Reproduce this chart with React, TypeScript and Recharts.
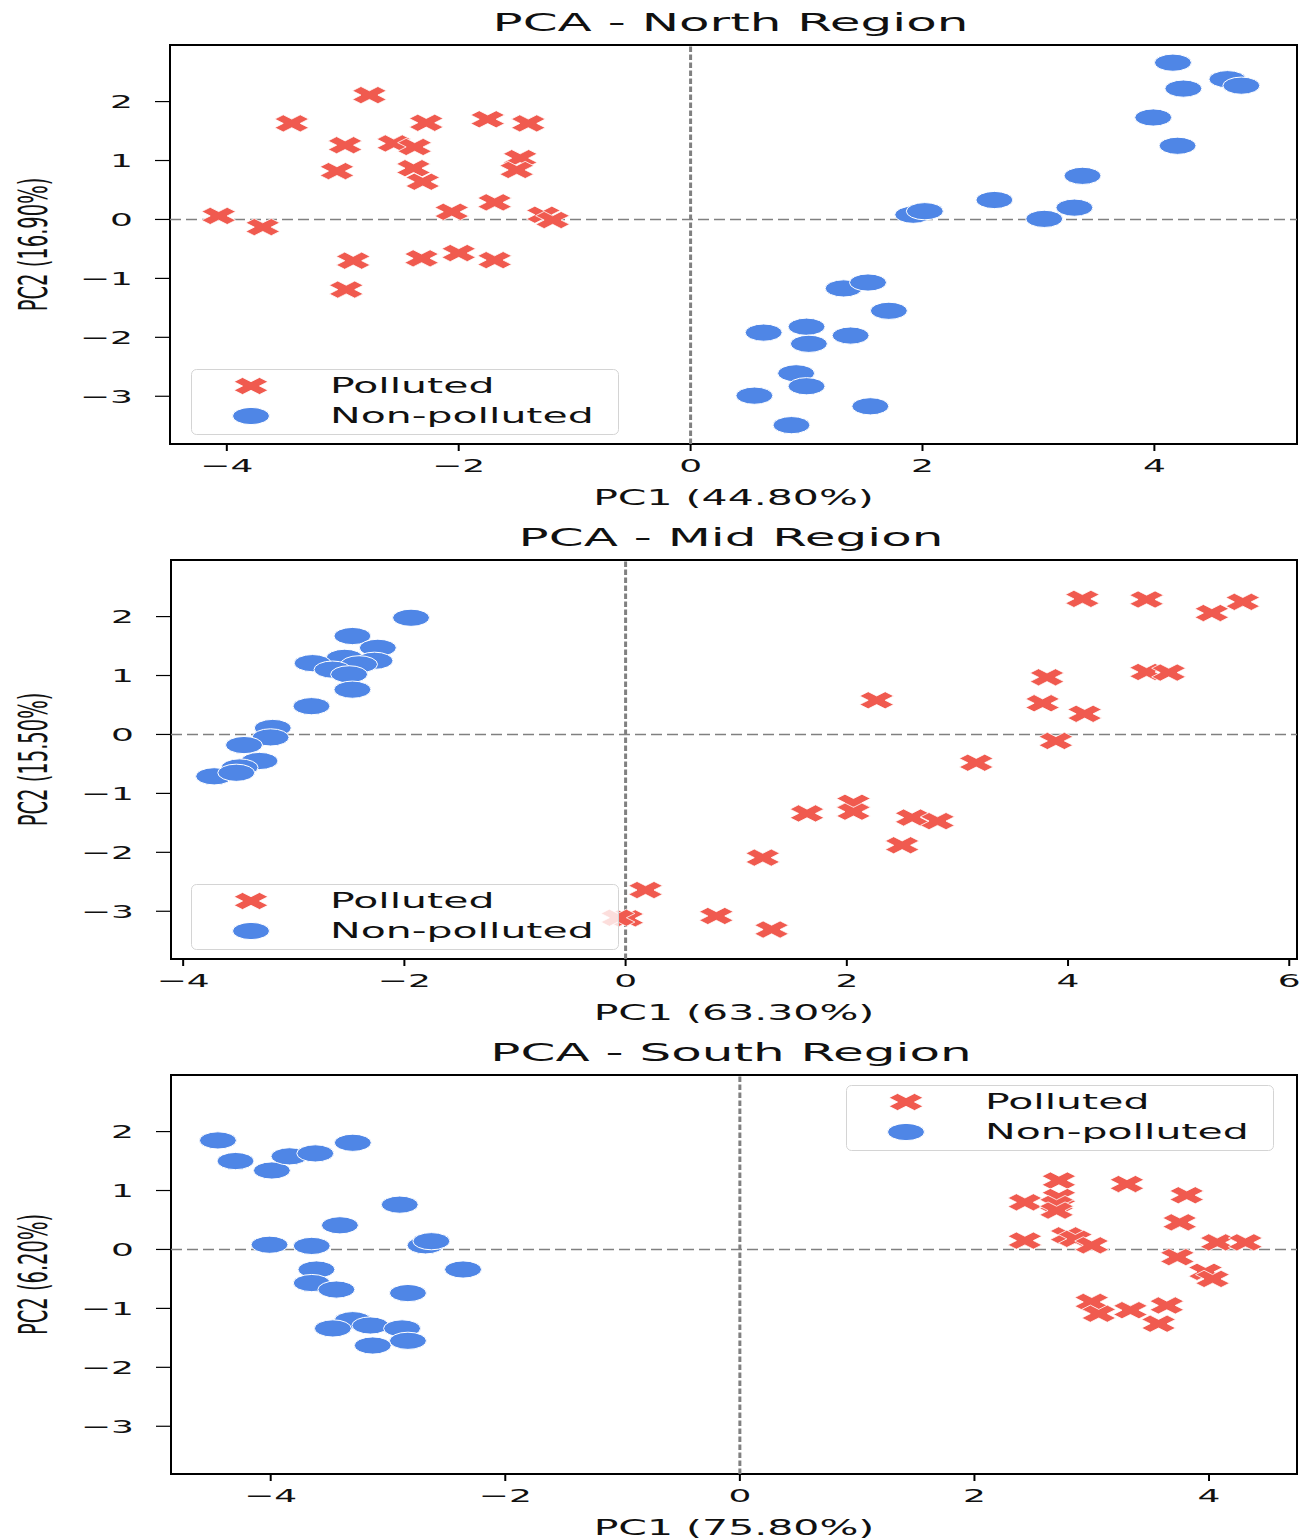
import React from "react";
import {
  ScatterChart,
  Scatter,
  XAxis,
  YAxis,
  ReferenceLine,
  ReferenceArea,
  Legend,
} from "recharts";

// North region
const northPollutedX = [-2.77, -3.44, -2.28, -1.75, -1.4, -2.98, -2.56, -2.38, -1.47, -3.05, -2.39, -2.31, -1.5, -4.07, -3.69, -2.06, -1.69, -1.27, -1.19, -2.91, -2.32, -2.0, -1.69, -2.97];
const northPollutedY = [2.11, 1.63, 1.64, 1.7, 1.63, 1.26, 1.29, 1.23, 1.04, 0.82, 0.87, 0.64, 0.84, 0.06, -0.13, 0.13, 0.29, 0.08, -0.01, -0.7, -0.66, -0.57, -0.69, -1.19];
const northCleanX = [4.16, 4.63, 4.75, 4.25, 3.99, 4.2, 3.38, 2.62, 3.31, 3.05, 1.92, 2.02, 1.32, 1.53, 1.71, 0.63, 1.0, 1.02, 1.38, 0.91, 1.0, 0.55, 1.55, 0.87];
const northCleanY = [2.66, 2.38, 2.27, 2.22, 1.73, 1.25, 0.74, 0.33, 0.2, 0.01, 0.08, 0.14, -1.17, -1.07, -1.55, -1.92, -1.82, -2.11, -1.97, -2.61, -2.83, -2.99, -3.17, -3.49];

// Mid region
const midPollutedX = [4.13, 4.71, 5.3, 5.58, 3.81, 4.71, 4.91, 2.27, 3.77, 4.15, 3.89, 3.17, 1.64, 2.06, 2.06, 2.59, 2.82, 2.5, 1.24, 0.18, 0.01, -0.07, 0.82, 1.32];
const midPollutedY = [2.3, 2.29, 2.06, 2.25, 0.97, 1.06, 1.05, 0.58, 0.53, 0.35, -0.11, -0.48, -1.34, -1.16, -1.31, -1.41, -1.47, -1.88, -2.09, -2.64, -3.12, -3.11, -3.08, -3.31];
const midCleanX = [-1.94, -2.47, -2.24, -2.54, -2.83, -2.27, -2.41, -2.65, -2.5, -2.47, -2.84, -3.19, -3.21, -3.45, -3.31, -3.49, -3.72, -3.52];
const midCleanY = [1.98, 1.67, 1.47, 1.3, 1.21, 1.25, 1.19, 1.1, 1.02, 0.76, 0.48, 0.11, -0.05, -0.18, -0.45, -0.56, -0.71, -0.65];

// South region
const southPollutedX = [2.72, 3.3, 3.81, 2.43, 2.72, 2.7, 2.7, 3.75, 2.43, 2.79, 2.86, 3.0, 4.07, 4.31, 3.73, 3.97, 4.03, 3.0, 3.06, 3.33, 3.64, 3.57];
const southPollutedY = [1.17, 1.11, 0.92, 0.8, 0.89, 0.77, 0.66, 0.46, 0.15, 0.24, 0.18, 0.07, 0.12, 0.12, -0.13, -0.38, -0.5, -0.89, -1.09, -1.03, -0.95, -1.26];
const southCleanX = [-4.45, -4.3, -3.99, -3.84, -3.62, -3.3, -2.9, -3.41, -4.01, -3.65, -2.68, -2.63, -2.36, -3.61, -3.65, -3.44, -2.83, -3.3, -3.47, -3.15, -2.88, -2.83, -3.13];
const southCleanY = [1.85, 1.5, 1.34, 1.58, 1.63, 1.81, 0.76, 0.41, 0.08, 0.06, 0.07, 0.14, -0.34, -0.34, -0.57, -0.68, -0.74, -1.2, -1.34, -1.29, -1.34, -1.55, -1.63];

const seriesNames = ["Polluted", "Non-polluted"];
const yTicks = [-3, -2, -1, 0, 1, 2];
const xTicksNorth = [-4, -2, 0, 2, 4];
const xTicksMid = [-4, -2, 0, 2, 4, 6];
const xTicksSouth = [-4, -2, 0, 2, 4];

const RED = "#F05A4F";
const BLUE = "#4F86E6";
const FONT = "'DejaVu Sans', sans-serif";
const Y_DOMAIN: [number, number] = [-3.81, 2.96];
const W = 1308;
const H = 515;

const zip = (xs: number[], ys: number[]) => xs.map((x, i) => ({ x, y: ys[i] }));

const panels = [
  {
    title: "PCA - North Region",
    xLabel: "PC1 (44.80%)",
    yLabel: "PC2 (16.90%)",
    xDomain: [-4.49, 5.23] as [number, number],
    xTicks: xTicksNorth,
    left: 170,
    legend: { left: 191, top: 369 },
    polluted: zip(northPollutedX, northPollutedY),
    clean: zip(northCleanX, northCleanY),
  },
  {
    title: "PCA - Mid Region",
    xLabel: "PC1 (63.30%)",
    yLabel: "PC2 (15.50%)",
    xDomain: [-4.11, 6.07] as [number, number],
    xTicks: xTicksMid,
    left: 171,
    legend: { left: 191, top: 369 },
    polluted: zip(midPollutedX, midPollutedY),
    clean: zip(midCleanX, midCleanY),
  },
  {
    title: "PCA - South Region",
    xLabel: "PC1 (75.80%)",
    yLabel: "PC2 (6.20%)",
    xDomain: [-4.85, 4.75] as [number, number],
    xTicks: xTicksSouth,
    left: 171,
    legend: { left: 846, top: 55 },
    polluted: zip(southPollutedX, southPollutedY),
    clean: zip(southCleanX, southCleanY),
  },
];

const fmtTick = (v: number) => (v < 0 ? `\u2212${Math.abs(v)}` : `${v}`);

// matplotlib filled "X" outline
const X_PATH = [
  [-1, -2], [0, -1], [1, -2], [2, -1], [1, 0], [2, 1],
  [1, 2], [0, 1], [-1, 2], [-2, 1], [-1, 0], [-2, -1],
];

const XMarker = (props: any) => {
  const { cx, cy } = props;
  if (cx == null || cy == null) return null;
  const pts = X_PATH.map(([px, py]) => `${cx + px * 8.5},${cy + py * 4.3}`).join(" ");
  return <polygon points={pts} fill={RED} stroke="#fff" strokeWidth={0.8} />;
};

const DotMarker = (props: any) => {
  const { cx, cy } = props;
  if (cx == null || cy == null) return null;
  return <ellipse cx={cx} cy={cy} rx={18.5} ry={8.6} fill={BLUE} stroke="#fff" strokeWidth={1} />;
};

const XTick = (props: any) => {
  const { x, y, payload } = props;
  return (
    <g transform={`translate(${x},${y})`}>
      <text transform="scale(2,1)" textAnchor="middle" dy="0.71em" fontSize={18} fontFamily={FONT} fill="#111">
        {fmtTick(payload.value)}
      </text>
    </g>
  );
};

const YTick = (props: any) => {
  const { x, y, payload } = props;
  return (
    <g transform={`translate(${x},${y})`}>
      <text transform="scale(2,1)" textAnchor="end" dy="0.36em" fontSize={18} fontFamily={FONT} fill="#111">
        {fmtTick(payload.value)}
      </text>
    </g>
  );
};

const XLabel = (props: any) => {
  const vb = props.viewBox || { x: 170, y: 444, width: 1127 };
  return (
    <text
      transform={`translate(${vb.x + vb.width / 2},${vb.y + 61}) scale(2,1)`}
      textAnchor="middle"
      fontSize={20.5}
      fontFamily={FONT}
      fill="#111"
    >
      {props.text}
    </text>
  );
};

const YLabel = (props: any) => {
  const vb = props.viewBox || { y: 45, height: 399 };
  const cy = vb.y + vb.height / 2;
  return (
    <text
      transform={`translate(47,${cy}) scale(2,1) rotate(-90)`}
      textAnchor="middle"
      fontSize={19.5}
      fontFamily={FONT}
      fill="#111"
    >
      {props.text}
    </text>
  );
};

// legend keeps the plotting order: Polluted first, Non-polluted second
const LegendBox = () => (
  <svg width={428} height={66} style={{ display: "block" }}>
    <rect x={0.5} y={0.5} width={427} height={65} rx={5} fill="#fff" fillOpacity={0.8} stroke="#d4d4d4" />
    {seriesNames.map((name, i) => (
      <g key={name}>
        {i === 0 ? <XMarker cx={60} cy={17} /> : <DotMarker cx={60} cy={47} />}
        <text
          transform={`translate(139,${24 + i * 30}) scale(2,1)`}
          fontSize={20.5}
          fontFamily={FONT}
          fill="#111"
        >
          {name}
        </text>
      </g>
    ))}
  </svg>
);

function Panel({ p }: { p: (typeof panels)[number] }) {
  const plotCenter = p.left + (W - 11 - p.left) / 2;
  return (
    <div style={{ position: "relative", width: W, height: H }}>
      <svg width={W} height={45} style={{ position: "absolute", left: 0, top: 0 }}>
        <text
          transform={`translate(${plotCenter - 3},31) scale(2,1)`}
          textAnchor="middle"
          fontSize={25}
          fontFamily={FONT}
          fill="#111"
        >
          {p.title}
        </text>
      </svg>
      <ScatterChart width={W} height={H} margin={{ top: 45, right: 11, bottom: 0, left: 0 }}>
        <XAxis
          type="number"
          dataKey="x"
          domain={p.xDomain}
          ticks={p.xTicks}
          allowDataOverflow
          height={71}
          axisLine={false}
          tickSize={7}
          tickMargin={8}
          tickLine={{ stroke: "#000", strokeWidth: 2 }}
          tick={<XTick />}
          label={<XLabel text={p.xLabel} />}
        />
        <YAxis
          type="number"
          dataKey="y"
          domain={Y_DOMAIN}
          ticks={yTicks}
          allowDataOverflow
          width={p.left}
          axisLine={false}
          tickSize={15}
          tickMargin={22}
          tickLine={{ stroke: "#000", strokeWidth: 1.2 }}
          tick={<YTick />}
          label={<YLabel text={p.yLabel} />}
        />
        <ReferenceLine y={0} stroke="#808080" strokeWidth={1.5} strokeDasharray="11 5" ifOverflow="visible" />
        <ReferenceLine x={0} stroke="#808080" strokeWidth={3} strokeDasharray="5.5 2.5" ifOverflow="visible" />
        <Scatter
          name={seriesNames[0]}
          data={p.polluted}
          fill={RED}
          legendType="cross"
          shape={(sp: any) => <XMarker {...sp} />}
          isAnimationActive={false}
        />
        <Scatter
          name={seriesNames[1]}
          data={p.clean}
          fill={BLUE}
          legendType="circle"
          shape={(sp: any) => <DotMarker {...sp} />}
          isAnimationActive={false}
        />
        <ReferenceArea
          x1={p.xDomain[0]}
          x2={p.xDomain[1]}
          y1={Y_DOMAIN[0]}
          y2={Y_DOMAIN[1]}
          fill="none"
          stroke="#000"
          strokeWidth={2}
          ifOverflow="visible"
        />
        <Legend
          layout="horizontal"
          verticalAlign="middle"
          align="center"
          wrapperStyle={{ left: p.legend.left, top: p.legend.top, width: 428, height: 66 }}
          content={<LegendBox />}
        />
      </ScatterChart>
    </div>
  );
}

export default function App() {
  return (
    <div
      style={{
        position: "absolute",
        left: 0,
        top: 0,
        width: W,
        height: 1539,
        overflow: "hidden",
        background: "#fff",
      }}
    >
      {panels.map((p) => (
        <Panel key={p.title} p={p} />
      ))}
    </div>
  );
}
